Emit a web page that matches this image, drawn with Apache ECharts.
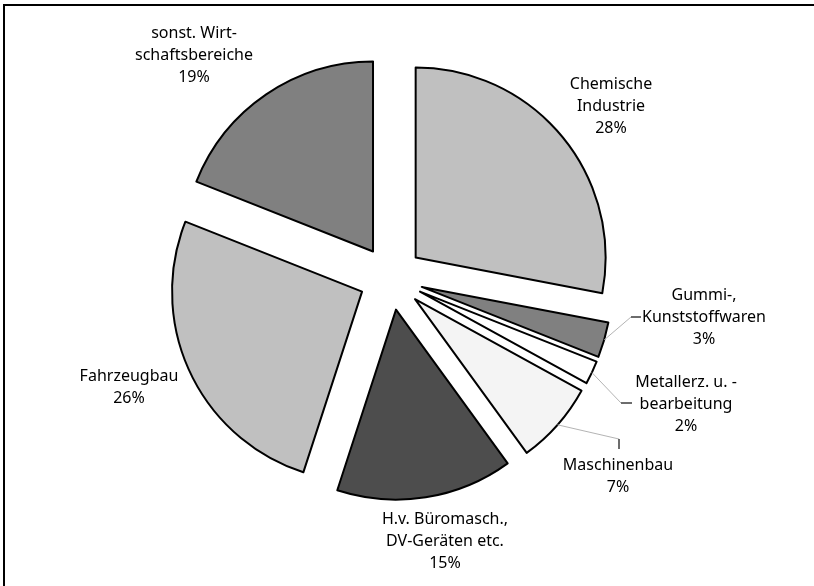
<!DOCTYPE html>
<html><head><meta charset="utf-8">
<script src="https://cdn.jsdelivr.net/npm/echarts@6/dist/echarts.min.js"></script>
<style>html,body{margin:0;padding:0;background:#fff}#c{width:814px;height:586px}</style>
</head><body><div id="c"></div>
<script>
const categories = ['Chemische\nIndustrie', 'Gummi-,\nKunststoffwaren', 'Metallerz. u. -\nbearbeitung', 'Maschinenbau', 'H.v. Büromasch.,\nDV-Geräten etc.', 'Fahrzeugbau', 'sonst. Wirt-\nschaftsbereiche'];
const shares = [28, 3, 2, 7, 15, 26, 19];
const colors = ['#c0c0c0', '#808080', '#ffffff', '#f4f4f4', '#4d4d4d', '#c0c0c0', '#808080'];
const labelPos = [[611, 106], [704, 317], [686, 404], [618, 476], [445, 541], [129, 387], [194, 55]];
const leader = {1: [[631, 317], [641, 317]], 2: [[621, 403], [632, 403]], 3: [[619, 439], [619, 449]]};

const R = 190, OFFSET = 32, CENTER = [391, 278];
const chart = echarts.init(document.getElementById('c'), null, {renderer: 'canvas'});

function labelSeries(stub) {
  return {
    type: 'pie',
    center: CENTER,
    radius: R + OFFSET,
    startAngle: 90,
    clockwise: true,
    silent: true,
    avoidLabelOverlap: false,
    z: stub ? 4 : 3,
    data: shares.map((v, i) => ({
      value: v, name: categories[i],
      label: {show: stub ? (i in leader) : true},
      labelLine: {show: (i in leader)}
    })),
    itemStyle: {color: 'rgba(0,0,0,0)', borderWidth: 0},
    emphasis: {disabled: true},
    label: {
      show: true, position: 'outside', formatter: stub ? ' ' : '{b}\n{c}%',
      fontFamily: 'Noto Sans', fontSize: 16, lineHeight: 22, color: '#000', align: 'center'
    },
    labelLine: {show: false, lineStyle: {color: stub ? '#000' : '#b4b4b4', width: 1}},
    labelLayout: function (p) {
      const i = p.dataIndex;
      const o = {x: labelPos[i][0], y: labelPos[i][1], align: 'center', verticalAlign: 'middle'};
      if (leader[i] && p.labelLinePoints) {
        o.labelLinePoints = stub ? leader[i].slice() : [p.labelLinePoints[0]].concat(leader[i]);
      }
      return o;
    }
  };
}

chart.setOption({
  animation: false,
  backgroundColor: '#fff',
  graphic: [{
    type: 'rect', shape: {x: 4, y: 5, width: 900, height: 900},
    style: {fill: 'none', stroke: '#000', lineWidth: 2}, silent: true, z: -1
  }],
  series: [{
    type: 'pie',
    center: CENTER,
    radius: R,
    startAngle: 90,
    clockwise: true,
    selectedMode: 'multiple',
    selectedOffset: OFFSET,
    avoidLabelOverlap: false,
    data: shares.map((v, i) => ({
      value: v, name: categories[i], selected: true,
      itemStyle: {color: colors[i]}
    })),
    itemStyle: {borderColor: '#000', borderWidth: 2},
    emphasis: {disabled: true},
    label: {show: false},
    labelLine: {show: false}
  }, labelSeries(false), labelSeries(true)]
});
</script></body></html>
